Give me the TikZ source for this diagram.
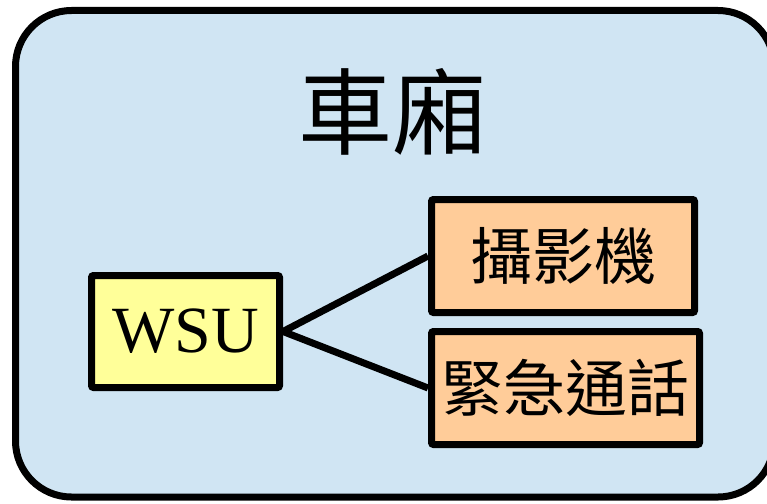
\documentclass[tikz,border=0pt]{standalone}
\usepackage{fontspec}
\setmainfont{Liberation Serif}
\newfontfamily\cjk{Noto Sans CJK TC}
\definecolor{carblue}{RGB}{208,229,243}
\definecolor{wsuyellow}{RGB}{255,255,153}
\definecolor{devorange}{RGB}{255,204,153}

\begin{document}
\begin{tikzpicture}[x=1pt, y=-1pt, line width=7pt,
    every node/.style={draw, rectangle, rounded corners=2pt, inner sep=0pt},
    dev/.style={fill=devorange, minimum height=113pt, font=\cjk\fontsize{62}{66}\selectfont}]
    \useasboundingbox (0,0) rectangle (767,503);
    \draw[fill=carblue, rounded corners=56pt] (15.5,10.5) rectangle (774,497);
    \node[draw=none, font=\cjk\fontsize{94}{100}\selectfont] (title) at (392,112) {車廂};
    \node[fill=wsuyellow, minimum width=188pt, minimum height=112pt, font=\fontsize{66}{70}\selectfont] (wsu) at (185.5,331.5) {WSU};
    \node[dev, minimum width=263pt] (cam) at (563,256) {攝影機};
    \node[dev, minimum width=268pt] (call) at (565.5,388) {緊急通話};
    \draw (wsu.east) -- (cam.west);
    \draw (wsu.east) -- (call.west);
\end{tikzpicture}
\end{document}
